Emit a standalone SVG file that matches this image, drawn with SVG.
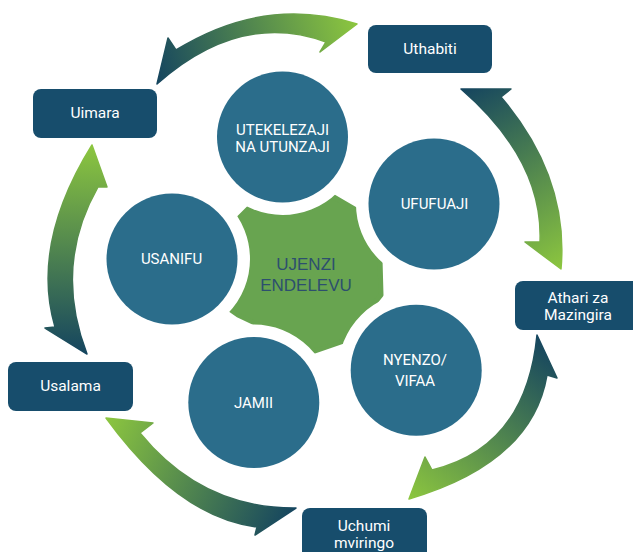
<svg xmlns="http://www.w3.org/2000/svg" width="633" height="552" viewBox="0 0 633 552">
<defs>
<linearGradient id="gTop" gradientUnits="userSpaceOnUse" x1="157" y1="84" x2="357" y2="24"><stop offset="0" stop-color="#15455f"/><stop offset="1" stop-color="#8cc63f"/></linearGradient>
<linearGradient id="gRight" gradientUnits="userSpaceOnUse" x1="461" y1="89" x2="561" y2="269"><stop offset="0" stop-color="#15455f"/><stop offset="1" stop-color="#8cc63f"/></linearGradient>
<linearGradient id="gLowRight" gradientUnits="userSpaceOnUse" x1="537" y1="335" x2="409" y2="499"><stop offset="0" stop-color="#15455f"/><stop offset="1" stop-color="#8cc63f"/></linearGradient>
<linearGradient id="gBottom" gradientUnits="userSpaceOnUse" x1="296" y1="508" x2="106" y2="418"><stop offset="0" stop-color="#15455f"/><stop offset="1" stop-color="#8cc63f"/></linearGradient>
<linearGradient id="gLeft" gradientUnits="userSpaceOnUse" x1="87" y1="354" x2="92" y2="145"><stop offset="0" stop-color="#15455f"/><stop offset="1" stop-color="#8cc63f"/></linearGradient>
</defs>
<style>
.box{fill:#174d6c}
.btxt{font-family:Roboto,"Liberation Sans",sans-serif;font-size:15.5px;fill:#ffffff;text-anchor:middle}
.circ{fill:#2b6d8b;stroke:#ffffff;stroke-width:25;paint-order:stroke}
.ctxt{font-family:Roboto,"Liberation Sans",sans-serif;font-size:15px;fill:#ffffff;text-anchor:middle}
.gtxt{font-family:"Liberation Sans",Arial,sans-serif;font-size:17px;fill:#2d4f6e;text-anchor:middle}
.arr{stroke-width:1.5;stroke-linejoin:round}
.gear{fill:#68a450;stroke:#68a450;stroke-width:5;stroke-linejoin:round}
</style>

<g id="connectors">
<path class="arr" fill="url(#gTop)" stroke="url(#gTop)" d="M157,84 L168,38 L176,50 Q265,-5 357,24 L320,52 L326,42 Q240,10.5 157,84 Z"/>
<path class="arr" fill="url(#gRight)" stroke="url(#gRight)" d="M461,89 L511,89 L501,97 Q569,177 561,269 L525,242 L540,242 Q543.5,160.5 461,89 Z"/>
<path class="arr" fill="url(#gLowRight)" stroke="url(#gLowRight)" d="M537,335 L557,378 L547,375 Q532,463 409,499 L425,457 L432,470 Q526,447.5 537,335 Z"/>
<path class="arr" fill="url(#gBottom)" stroke="url(#gBottom)" d="M296,508 L255,535 L257,527 Q178.65,517.5 106,418 L153,423 L140,433 Q202,509 296,508 Z"/>
<path class="arr" fill="url(#gLeft)" stroke="url(#gLeft)" d="M87,354 L45,328 L55,327 Q30.65,244 92,145 L107,187 L98,187 Q53,266 87,354 Z"/>
</g>

<g id="node-ujenzi-endelevu">
<polygon class="gear" points="236,221 251,206 332,196 356,210 380,259 381,295 344,341 315,351 238,315 228,308"/>
</g>

<g id="node-utekelezaji">
<circle class="circ" cx="282.5" cy="137" r="65.5"/>
<text class="ctxt" x="282.5" y="135">UTEKELEZAJI</text>
<text class="ctxt" x="282.5" y="151.7">NA UTUNZAJI</text>
</g>
<g id="node-ufufuaji">
<circle class="circ" cx="434" cy="204" r="65.5"/>
<text class="ctxt" x="434.5" y="209">UFUFUAJI</text>
</g>
<g id="node-nyenzo">
<circle class="circ" cx="416.2" cy="370.3" r="65.5"/>
<text class="ctxt" x="415" y="365">NYENZO/</text>
<text class="ctxt" x="415" y="385.7">VIFAA</text>
</g>
<g id="node-jamii">
<circle class="circ" cx="253.8" cy="402.5" r="65.5"/>
<text class="ctxt" x="253.5" y="408.3">JAMII</text>
</g>
<g id="node-usanifu">
<circle class="circ" cx="172" cy="259" r="65.5"/>
<text class="ctxt" x="171.5" y="264">USANIFU</text>
</g>

<g id="node-ujenzi-text">
<text class="gtxt" x="306" y="270">UJENZI</text>
<text class="gtxt" x="306" y="290.5">ENDELEVU</text>
</g>

<g id="node-uthabiti">
<rect class="box" x="368" y="25" width="124" height="48" rx="8"/>
<text class="btxt" x="430" y="54">Uthabiti</text>
</g>
<g id="node-uimara">
<rect class="box" x="33" y="89" width="124" height="49" rx="8"/>
<text class="btxt" x="95" y="118">Uimara</text>
</g>
<g id="node-usalama">
<rect class="box" x="8" y="362" width="125" height="49" rx="8"/>
<text class="btxt" x="70.5" y="391">Usalama</text>
</g>
<g id="node-athari">
<rect class="box" x="515" y="281" width="126" height="49" rx="8"/>
<text class="btxt" x="578" y="303.3">Athari za</text>
<text class="btxt" x="578" y="320">Mazingira</text>
</g>
<g id="node-uchumi">
<rect class="box" x="302" y="508" width="125" height="52" rx="8"/>
<text class="btxt" x="364" y="531">Uchumi</text>
<text class="btxt" x="364" y="547.7">mviringo</text>
</g>
</svg>
